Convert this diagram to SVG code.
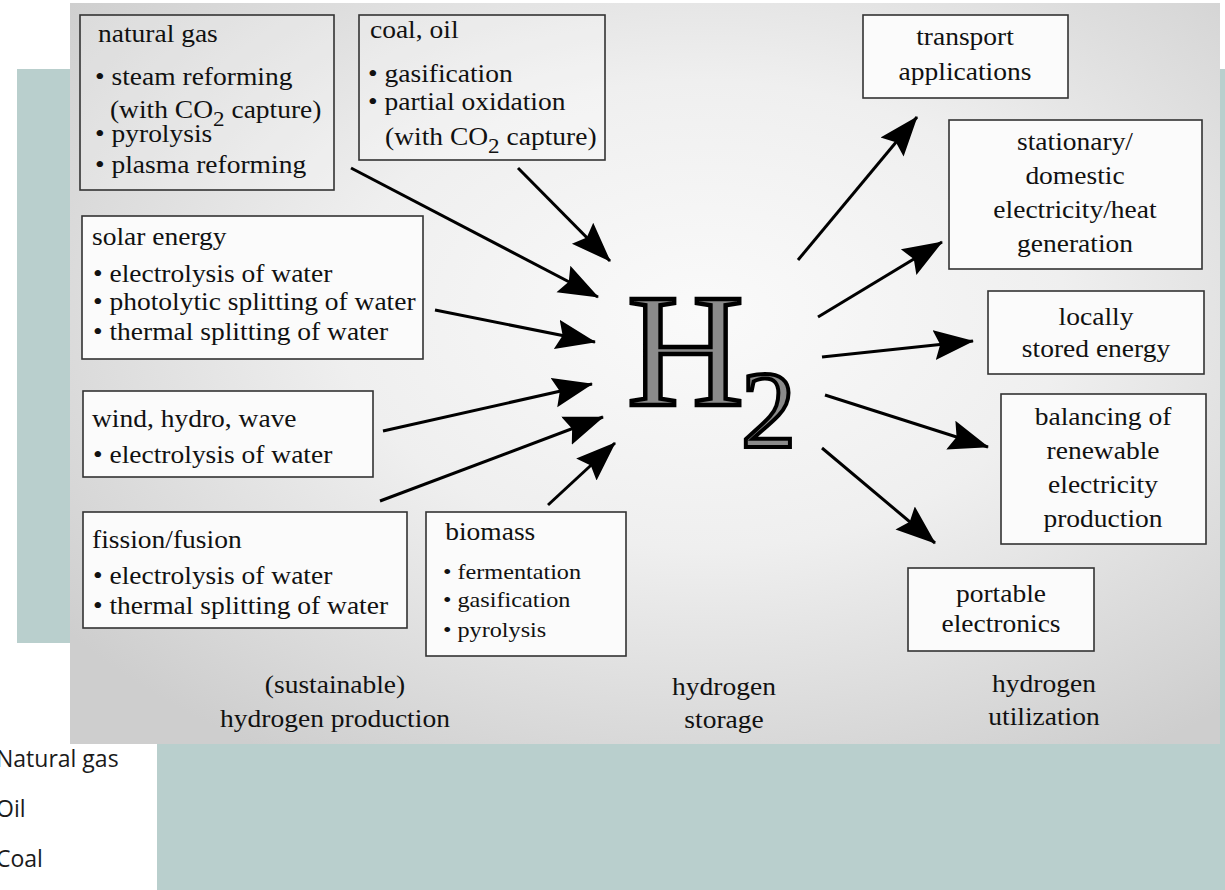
<svg xmlns="http://www.w3.org/2000/svg" width="1225" height="890" viewBox="0 0 1225 890">
  <defs>
    <radialGradient id="panelShade" cx="0.55" cy="0.42" r="0.7">
      <stop offset="0" stop-color="#fafafa"/>
      <stop offset="0.45" stop-color="#efefef"/>
      <stop offset="1" stop-color="#cecece"/>
    </radialGradient>
    <marker id="head" markerUnits="userSpaceOnUse" markerWidth="40" markerHeight="32" viewBox="0 0 40 32" refX="39" refY="16" orient="auto">
      <path d="M0,1 L40,16 L0,31 L6,16 z" fill="#000"/>
    </marker>
    <style>
      .box { stroke: #333; stroke-width: 1.6; fill: #fbfbfb; }
      .box.dim { fill: #ffffff; fill-opacity: 0.25; }
      .t { font-family: "Liberation Serif", "Times New Roman", serif; font-size: 25px; fill: #111; }
      .ts { font-size: 22px; }
      .mid { text-anchor: middle; }
      .arrow { stroke: #000; stroke-width: 3; fill: none; marker-end: url(#head); }
      .side { font-family: "Open Sans", "Noto Sans", sans-serif; font-size: 23px; fill: #1a1a1a; }
      .big { font-family: "Liberation Serif", "Times New Roman", serif; fill: #8a8a8a; stroke: #000; }
    </style>
  </defs>

  <!-- slide backdrop -->
  <rect x="0" y="0" width="1225" height="890" fill="#ffffff"/>
  <rect x="17" y="69" width="1208" height="821" fill="#b9cfcd"/>
  <rect x="0" y="643" width="157" height="247" fill="#ffffff"/>
  <g id="side-list">
    <text class="side" x="-4" y="767">Natural gas</text>
    <text class="side" x="-4" y="817">Oil</text>
    <text class="side" x="-4" y="867">Coal</text>
  </g>

  <!-- figure panel -->
  <rect x="70" y="3" width="1150" height="741" fill="url(#panelShade)"/>

  <!-- production sources -->
  <g id="natural-gas">
    <rect class="box dim" x="80" y="15" width="254" height="175"/>
    <g transform="translate(95,0) scale(1.1,1)">
      <text class="t" x="2.7" y="42">natural gas</text>
      <text class="t" x="0" y="85">• steam reforming</text>
      <text class="t" x="13.6" y="118">(with CO<tspan font-size="21" dy="8">2</tspan><tspan dy="-8"> capture)</tspan></text>
      <text class="t" x="0" y="142">• pyrolysis</text>
      <text class="t" x="0" y="173">• plasma reforming</text>
    </g>
  </g>

  <g id="coal-oil">
    <rect class="box dim" x="359" y="15" width="246" height="145"/>
    <g transform="translate(368,0) scale(1.1,1)">
      <text class="t" x="1.8" y="38">coal, oil</text>
      <text class="t" x="0" y="82">• gasification</text>
      <text class="t" x="0" y="110">• partial oxidation</text>
      <text class="t" x="15.5" y="145">(with CO<tspan font-size="21" dy="8">2</tspan><tspan dy="-8"> capture)</tspan></text>
    </g>
  </g>

  <g id="solar-energy">
    <rect class="box" x="82" y="216" width="341" height="143"/>
    <g transform="translate(92,0) scale(1.1,1)">
      <text class="t" x="0" y="245">solar energy</text>
      <text class="t" x="0.9" y="282">• electrolysis of water</text>
      <text class="t" x="0.9" y="310">• photolytic splitting of water</text>
      <text class="t" x="0.9" y="340">• thermal splitting of water</text>
    </g>
  </g>

  <g id="wind-hydro-wave">
    <rect class="box" x="83" y="391" width="290" height="86"/>
    <g transform="translate(92,0) scale(1.1,1)">
      <text class="t" x="0" y="427">wind, hydro, wave</text>
      <text class="t" x="0.9" y="463">• electrolysis of water</text>
    </g>
  </g>

  <g id="fission-fusion">
    <rect class="box" x="83" y="512" width="324" height="116"/>
    <g transform="translate(92,0) scale(1.1,1)">
      <text class="t" x="0" y="548">fission/fusion</text>
      <text class="t" x="0.9" y="584">• electrolysis of water</text>
      <text class="t" x="0.9" y="614">• thermal splitting of water</text>
    </g>
  </g>

  <g id="biomass">
    <rect class="box" x="426" y="512" width="200" height="144"/>
    <g transform="translate(443,0) scale(1.1,1)">
      <text class="t" x="2" y="540">biomass</text>
      <text class="t ts" x="0" y="579">• fermentation</text>
      <text class="t ts" x="0" y="607">• gasification</text>
      <text class="t ts" x="0" y="637">• pyrolysis</text>
    </g>
  </g>

  <!-- hydrogen -->
  <g id="h2">
    <text class="big" x="627" y="405" font-size="162" stroke-width="4.5">H</text>
    <text class="big" x="741" y="447" font-size="110" stroke-width="4">2</text>
  </g>

  <!-- utilization targets -->
  <g id="transport">
    <rect class="box" x="863" y="15" width="205" height="83"/>
    <g transform="translate(965,0) scale(1.1,1)">
      <text class="t mid" x="0" y="45">transport</text>
      <text class="t mid" x="0" y="80">applications</text>
    </g>
  </g>

  <g id="stationary">
    <rect class="box" x="949" y="120" width="253" height="149"/>
    <g transform="translate(1075,0) scale(1.1,1)">
      <text class="t mid" x="0" y="150">stationary/</text>
      <text class="t mid" x="0" y="184">domestic</text>
      <text class="t mid" x="0" y="218">electricity/heat</text>
      <text class="t mid" x="0" y="252">generation</text>
    </g>
  </g>

  <g id="locally-stored">
    <rect class="box" x="988" y="291" width="216" height="83"/>
    <g transform="translate(1096,0) scale(1.1,1)">
      <text class="t mid" x="0" y="325">locally</text>
      <text class="t mid" x="0" y="357">stored energy</text>
    </g>
  </g>

  <g id="balancing">
    <rect class="box" x="1001" y="394" width="205" height="150"/>
    <g transform="translate(1103,0) scale(1.1,1)">
      <text class="t mid" x="0" y="425">balancing of</text>
      <text class="t mid" x="0" y="459">renewable</text>
      <text class="t mid" x="0" y="493">electricity</text>
      <text class="t mid" x="0" y="527">production</text>
    </g>
  </g>

  <g id="portable">
    <rect class="box" x="908" y="568" width="186" height="83"/>
    <g transform="translate(1001,0) scale(1.1,1)">
      <text class="t mid" x="0" y="602">portable</text>
      <text class="t mid" x="0" y="632">electronics</text>
    </g>
  </g>

  <!-- column captions -->
  <g id="captions">
    <g transform="translate(335,0) scale(1.1,1)">
      <text class="t mid" x="0" y="693">(sustainable)</text>
      <text class="t mid" x="0" y="727">hydrogen production</text>
    </g>
    <g transform="translate(724,0) scale(1.1,1)">
      <text class="t mid" x="0" y="695">hydrogen</text>
      <text class="t mid" x="0" y="728">storage</text>
    </g>
    <g transform="translate(1044,0) scale(1.1,1)">
      <text class="t mid" x="0" y="692">hydrogen</text>
      <text class="t mid" x="0" y="725">utilization</text>
    </g>
  </g>

  <!-- connectors -->
  <g id="connectors">
    <line class="arrow" x1="351" y1="168" x2="598" y2="297"/>
    <line class="arrow" x1="518" y1="168" x2="610" y2="261"/>
    <line class="arrow" x1="435" y1="310" x2="595" y2="342"/>
    <line class="arrow" x1="383" y1="431" x2="592" y2="384"/>
    <line class="arrow" x1="380" y1="501" x2="603" y2="417"/>
    <line class="arrow" x1="548" y1="505" x2="615" y2="443"/>
    <line class="arrow" x1="798" y1="260" x2="917" y2="117"/>
    <line class="arrow" x1="818" y1="317" x2="942" y2="242"/>
    <line class="arrow" x1="822" y1="357" x2="973" y2="341"/>
    <line class="arrow" x1="825" y1="395" x2="988" y2="447"/>
    <line class="arrow" x1="822" y1="448" x2="935" y2="543"/>
  </g>
</svg>
